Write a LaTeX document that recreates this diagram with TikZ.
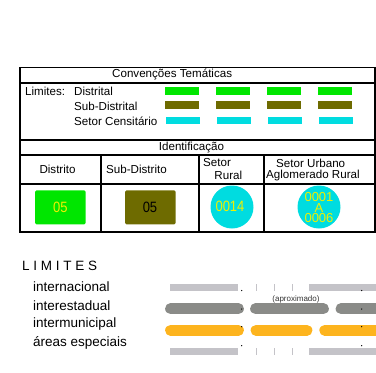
\documentclass[tikz,border=0pt]{standalone}
\usepackage{fontspec}
\setmainfont{Liberation Sans}
\definecolor{cgreen}{RGB}{0,230,0}
\definecolor{colive}{RGB}{110,107,0}
\definecolor{ccyan}{RGB}{0,220,224}
\definecolor{cyel}{RGB}{240,240,0}
\definecolor{lgray}{RGB}{196,195,200}
\definecolor{dgray}{RGB}{138,139,136}
\definecolor{corange}{RGB}{253,180,30}
\begin{document}
\begin{tikzpicture}[x=1pt,y=-1pt,
  tbl/.style={line width=1.5pt},
  lbl/.style={anchor=west,inner sep=0pt,font=\fontsize{11.6}{13}\selectfont},
  big/.style={anchor=west,inner sep=0pt,font=\fontsize{13.5}{16}\selectfont},
  yl/.style={inner sep=0pt,text=cyel,yscale=1.15,text height=9.3pt,text depth=0pt,font=\fontsize{13}{13}\selectfont},
  flatbar/.style={line width=7.3pt,color=lgray},
  rbar/.style={line width=10.8pt,line cap=round},
  tick/.style={line width=0.8pt,color=lgray}]
\useasboundingbox (0,0) rectangle (376,373);
\clip (0,0) rectangle (376,373);
% table
\draw[tbl] (20,67.5) rectangle (375,232);
\draw[tbl] (20,83) -- (375,83);
\draw[tbl] (20,140) -- (375,140);
\draw[tbl] (20,155) -- (375,155);
\draw[tbl] (20,184) -- (375,184);
\draw[tbl] (101,155) -- (101,232);
\draw[tbl] (199,155) -- (199,232);
\draw[tbl] (264,155) -- (264,232);
\node[lbl] (tit) at (112,74.5) {Convenções Temáticas};
\node[lbl] (lim) at (25,91) {Limites:};
\node[lbl] (dis) at (74,91) {Distrital};
\node[lbl] (sub) at (74,106) {Sub-Distrital};
\node[lbl] (set) at (74,121) {Setor Censitário};
\foreach \x in {165,216,267,318}{
  \fill[cgreen] (\x,87.3) rectangle ++(34,7.4);
  \fill[colive] (\x,101.3) rectangle ++(34,7.4);
  \fill[ccyan] (\x+1,116.7) rectangle ++(34,7.4);
}
\node[lbl] (ide) at (158.7,147.5) {Identificação};
\node[lbl] (h1) at (39.3,169.5) {Distrito};
\node[lbl] (h2) at (106,169.5) {Sub-Distrito};
\node[lbl] (h3a) at (203,163) {Setor};
\node[lbl] (h3b) at (214.3,175) {Rural};
\node[lbl] (h4a) at (276,163) {Setor Urbano};
\node[lbl] (h4b) at (266,175) {Aglomerado Rural};
\fill[cgreen,rounded corners=1.5pt] (35,190.3) rectangle (85.7,224.3);
\node[yl] (v1) at (60.3,206.7) {05};
\fill[colive,rounded corners=1.5pt] (125,190.3) rectangle (175.7,224.3);
\node[yl,text=black] (v2) at (150,206.7) {05};
\fill[ccyan] (232,207) circle (21.5);
\node[yl] (v3) at (230,206.3) {0014};
\fill[ccyan] (319,207) circle (21.5);
\node[inner sep=0pt,text=cyel,align=center,font=\fontsize{13}{10.5}\selectfont] (v4) at (319,207.7) {0001\\A\\0006};
% LIMITES
\node[big] (lt) at (22,266) {L I M I T E S};
\node[big] (l1) at (33,287) {internacional};
\node[big] (l2) at (33,306) {interestadual};
\node[big] (l3) at (33,324.5) {intermunicipal};
\node[big] (l4) at (33,343) {áreas especiais};
% internacional
\draw[flatbar] (170,287.5) -- (238,287.5);
\draw[flatbar] (309,287.5) -- (380,287.5);
\foreach \x in {256,274,292}{\draw[tick] (\x,284) -- (\x,291);}
\fill (241.7,290.5) circle (0.7);
\fill (361.7,290.5) circle (0.7);
% interestadual
\draw[rbar,dgray] (170.5,308.7) -- (238.5,308.7);
\draw[rbar,dgray] (255.5,308.7) -- (323.5,308.7);
\draw[rbar,dgray] (341,308.7) -- (390,308.7);
\node[inner sep=0pt,font=\fontsize{8}{9}\selectfont,text=black!80] (apr) at (296,299) {(aproximado)};
\fill (241.7,309) circle (0.7);
\fill (361.7,309) circle (0.7);
% intermunicipal
\draw[rbar,corange] (170.5,330.3) -- (238.5,330.3);
\draw[rbar,corange] (256,330.3) -- (307,330.3);
\draw[rbar,corange] (324.7,330.3) -- (390,330.3);
\fill (241.7,326.7) circle (0.7);
\fill (361.7,326.7) circle (0.7);
% areas especiais
\draw[flatbar] (170,351.3) -- (238,351.3);
\draw[flatbar] (309,351.3) -- (380,351.3);
\foreach \x in {256,274,292}{\draw[tick] (\x,348) -- (\x,355);}
\fill (241.7,345.7) circle (0.7);
\fill (361.7,345.7) circle (0.7);
\end{tikzpicture}
\end{document}
